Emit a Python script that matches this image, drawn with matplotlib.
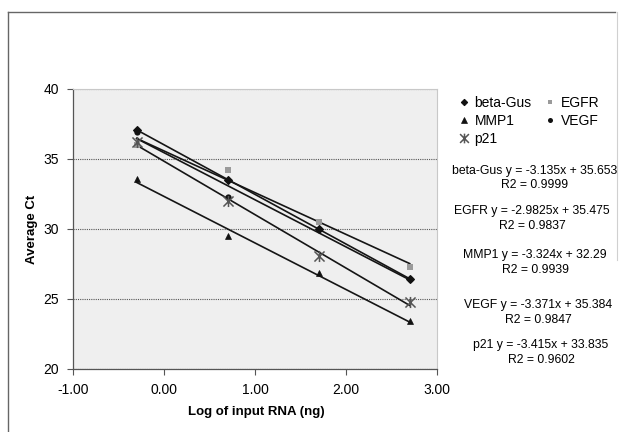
import numpy as np
import matplotlib
matplotlib.use("Agg")
import matplotlib.pyplot as plt
from matplotlib.lines import Line2D
from matplotlib.path import Path

plt.rcParams["font.family"] = ["Liberation Sans", "DejaVu Sans"]
plt.rcParams["axes.unicode_minus"] = False

# -----------------------------
# data
# -----------------------------
x_log = [-0.3, 0.7, 1.7, 2.7]          # log of input RNA (ng)
beta_gus = [37.1, 33.5, 30.0, 26.45]
egfr = [36.0, 34.2, 30.5, 27.3]
mmp1 = [33.6, 29.5, 26.85, 23.4]
vegf = [36.9, 32.3, 30.0, 26.45]
p21 = [36.2, 32.0, 28.05, 24.8]

genes = ["beta-Gus", "EGFR", "MMP1", "VEGF", "p21"]
equations = [
    "beta-Gus y = -3.135x + 35.653\nR2 = 0.9999",
    "EGFR y = -2.9825x + 35.475\nR2 = 0.9837",
    "MMP1 y = -3.324x + 32.29\nR2 = 0.9939",
    "VEGF y = -3.371x + 35.384\nR2 = 0.9847",
    "p21 y = -3.415x + 33.835\nR2 = 0.9602",
]
x_ticks = [-1, 0, 1, 2, 3]
y_ticks = [20, 25, 30, 35, 40]

# excel "star" marker: x plus a vertical bar
star = Path([(-1, -1), (1, 1), (-1, 1), (1, -1), (0, -1.1), (0, 1.1)],
            [Path.MOVETO, Path.LINETO, Path.MOVETO, Path.LINETO, Path.MOVETO, Path.LINETO])

styles = {
    "beta-Gus": dict(marker="D", ms=4, color="#111111", mew=0.8),
    "EGFR":     dict(marker="s", ms=4, color="#9a9a9a", mew=0),
    "MMP1":     dict(marker="^", ms=5, color="#111111", mew=0.5),
    "VEGF":     dict(marker="o", ms=4.5, color="#111111", mew=0),
    "p21":      dict(marker=star, ms=8, color="#555555", mew=1.1),
}
series = dict(zip(genes, [beta_gus, egfr, mmp1, vegf, p21]))

W, H = 619, 432
fig = plt.figure(figsize=(W / 100, H / 100), dpi=100)
ax = fig.add_axes([73 / W, 1 - 369 / H, (437 - 73) / W, (369 - 89) / H])
ax.set_facecolor("#efefef")

xs = np.array(x_log)
for g in genes:
    ys = np.array(series[g])
    # excel linear trendline
    k, b = np.polyfit(xs, ys, 1)
    ax.plot([xs[0], xs[-1]], [k * xs[0] + b, k * xs[-1] + b],
            color="#151515", lw=1.2, zorder=3)
for g in genes:
    ax.plot(x_log, series[g], linestyle="none", zorder=4, **styles[g])

ax.set_xlim(-1, 3)
ax.set_ylim(20, 40)
ax.set_xticks(x_ticks)
ax.set_yticks(y_ticks)
ax.set_xticklabels([f"{t:.2f}" for t in x_ticks])
ax.tick_params(direction="out", length=4, width=0.8, color="#555555",
               labelsize=10, pad=6)
ax.yaxis.grid(True, linestyle=(0, (1, 1)), color="#555555", lw=0.8)
ax.set_axisbelow(True)
for side in ["left", "bottom"]:
    ax.spines[side].set_color("#555555")
    ax.spines[side].set_linewidth(0.9)
for side in ["top", "right"]:
    ax.spines[side].set_color("#c8c8c8")
    ax.spines[side].set_linewidth(0.8)

fig.text(32 / W, 1 - 229 / H, "Average Ct", rotation=90, ha="center", va="center",
         fontsize=9.5, fontweight="bold")
fig.text(256 / W, 1 - 412 / H, "Log of input RNA (ng)", ha="center", va="center",
         fontsize=9.5, fontweight="bold")

# legend (markers only), filled row by row like excel
order = ["beta-Gus", "MMP1", "p21", "EGFR", "VEGF"]
handles = []
for g in order:
    h = Line2D([], [], linestyle="none", **styles[g])
    h.set_markersize(7 if g == "p21" else styles[g]["ms"] * 0.8)
    handles.append(h)
fig.legend(handles, order, loc="upper left", bbox_to_anchor=(458 / W, 1 - 96 / H),
           ncol=2, frameon=False, fontsize=10, handlelength=0.8, handletextpad=0.4,
           columnspacing=0.9, labelspacing=0.3, borderaxespad=0, borderpad=0)

eq_pos = [(535, 178), (532, 218.5), (535, 262.5), (538, 312.5), (541, 352.5)]
for txt, (px, py) in zip(equations, eq_pos):
    fig.text(px / W, 1 - py / H, txt, ha="center", va="center", fontsize=8.8,
             multialignment="center", linespacing=1.25)

# chart area border (cut off by the scan)
fig.add_artist(Line2D([8 / W, 615 / W], [1 - 12 / H, 1 - 12 / H], color="#666666", lw=1))
fig.add_artist(Line2D([8 / W, 8 / W], [1 - 12 / H, 0], color="#666666", lw=1))
fig.add_artist(Line2D([617 / W, 617 / W], [1 - 12 / H, 1 - 260 / H], color="#d0d0d0", lw=0.8))

fig.savefig("out.png", dpi=100, facecolor="white")
